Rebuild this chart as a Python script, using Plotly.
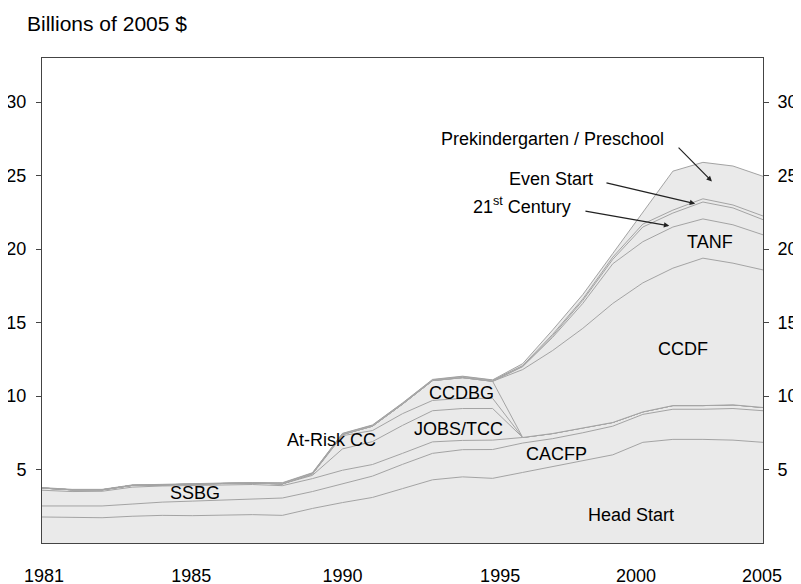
import plotly.graph_objects as go

years = list(range(1981, 2006))

# Series values (billions of 2005 $), bottom to top of the stack
head_start = [1.77, 1.75, 1.72, 1.82, 1.88, 1.86, 1.90, 1.93, 1.88, 2.35, 2.75, 3.10, 3.70,
              4.30, 4.50, 4.40, 4.80, 5.20, 5.60, 6.00, 6.85, 7.05, 7.05, 7.00, 6.85]
cacfp = [0.75, 0.75, 0.80, 0.83, 0.90, 0.99, 1.02, 1.07, 1.18, 1.15, 1.30, 1.45, 1.65,
         1.80, 1.85, 1.96, 2.00, 1.90, 1.90, 1.95, 1.90, 2.05, 2.05, 2.15, 2.15]
ssbg = [1.07, 1.00, 1.00, 1.15, 1.10, 1.07, 1.05, 0.98, 0.84, 0.88, 0.90, 0.79, 0.75,
        0.78, 0.63, 0.64, 0.38, 0.35, 0.35, 0.25, 0.17, 0.25, 0.25, 0.25, 0.22]
jobs_tcc = [0.15, 0.12, 0.10, 0.12, 0.08, 0.06, 0.08, 0.10, 0.12, 0.22, 1.45, 1.56, 1.90,
            2.12, 2.17, 2.15, 0, 0, 0, 0, 0, 0, 0, 0, 0]
at_risk_cc = [0, 0, 0, 0, 0, 0, 0, 0, 0, 0.08, 0.90, 0.75, 0.80,
              0.70, 0.69, 0.69, 0, 0, 0, 0, 0, 0, 0, 0, 0]
ccdbg = [0, 0, 0, 0, 0, 0, 0, 0, 0, 0.02, 0.08, 0.30, 0.65,
         1.35, 1.41, 1.16, 0, 0, 0, 0, 0, 0, 0, 0, 0]
ccdf = [0, 0, 0, 0, 0, 0, 0, 0, 0, 0, 0, 0, 0,
        0, 0, 0, 4.62, 5.65, 6.75, 8.10, 8.78, 9.35, 10.03, 9.64, 9.36]
tanf = [0, 0, 0, 0, 0, 0, 0, 0, 0, 0, 0, 0, 0,
        0, 0, 0, 0.20, 0.90, 1.70, 2.70, 2.80, 2.80, 2.67, 2.61, 2.39]
century21 = [0, 0, 0, 0, 0, 0, 0, 0, 0, 0, 0, 0, 0,
             0, 0.02, 0.02, 0.02, 0.10, 0.20, 0.30, 1.00, 0.95, 1.15, 1.15, 1.03]
even_start = [0, 0, 0, 0, 0, 0, 0, 0, 0.05, 0.05, 0.05, 0.05, 0.05,
              0.05, 0.05, 0.05, 0.05, 0.10, 0.10, 0.15, 0.20, 0.20, 0.22, 0.20, 0.25]
prek = [0.03, 0.03, 0.03, 0.03, 0.03, 0.03, 0.03, 0.03, 0.03, 0.03, 0.03, 0.03, 0.03,
        0.03, 0.03, 0.03, 0.13, 0.30, 0.30, 0.25, 0.80, 2.65, 2.48, 2.65, 2.70]

series = [("Head Start", head_start), ("CACFP", cacfp), ("SSBG", ssbg),
          ("JOBS/TCC", jobs_tcc), ("At-Risk CC", at_risk_cc), ("CCDBG", ccdbg),
          ("CCDF", ccdf), ("TANF", tanf), ("21st Century", century21),
          ("Even Start", even_start), ("Prekindergarten / Preschool", prek)]

# Tick labels (as placed in the original)
x_tick_pos = [1981.07, 1985.97, 1991.0, 1996.25, 2000.77, 2004.97]
x_tick_text = ["1981", "1985", "1990", "1995", "2000", "2005"]
y_ticks = [5, 10, 15, 20, 25, 30]

# In-chart labels: (text, year, value)
labels = [("SSBG", 1986.09, 3.42), ("At-Risk CC", 1990.62, 7.03), ("CCDBG", 1994.97, 10.23),
          ("JOBS/TCC", 1994.88, 7.76), ("CACFP", 1998.11, 6.09), ("Head Start", 2000.59, 1.88),
          ("CCDF", 2002.34, 13.2), ("TANF", 2003.24, 20.49),
          ("Prekindergarten / Preschool", 1997.99, 27.51), ("Even Start", 1997.94, 24.78),
          ("21<sup>st</sup> Century", 1996.98, 22.95)]
# Arrows: (tail year, tail value, head year, head value)
arrows = [(2002.14, 27.0, 2003.3, 24.6), (1999.74, 24.53, 2002.74, 23.09),
          (1999.04, 22.6, 2001.88, 21.58)]

FONT = "Arial, Liberation Sans, sans-serif"
fig = go.Figure()
for name, vals in series:
    fig.add_trace(go.Scatter(x=years, y=vals, name=name, stackgroup="one", mode="lines",
                             line=dict(color="#a3a3a3", width=1), fillcolor="#eaeaea",
                             hoverinfo="skip"))
fig.add_trace(go.Scatter(x=[years[0]], y=[0], yaxis="y2", mode="markers",
                         marker=dict(opacity=0), showlegend=False, hoverinfo="skip"))

annotations = []
for text, x, y in labels:
    annotations.append(dict(x=x, y=y, xref="x", yref="y", text=text, showarrow=False,
                            font=dict(family=FONT, size=18, color="#000")))
for tx, ty, hx, hy in arrows:
    annotations.append(dict(x=hx, y=hy, ax=tx, ay=ty, xref="x", yref="y", axref="x", ayref="y",
                            text="", showarrow=True, arrowhead=2, arrowsize=0.9, arrowwidth=1.2,
                            arrowcolor="#222"))
annotations.append(dict(x=-0.0236, y=1.071, xref="paper", yref="paper", text="Billions of 2005 $",
                        showarrow=False, xanchor="left", yanchor="middle",
                        font=dict(family=FONT, size=21, color="#000")))

# The page body adds an 8px offset, so the figure is 8px smaller than the window
fig.update_layout(
    width=793, height=576,
    margin=dict(l=34, r=38, t=50, b=41, autoexpand=False),
    paper_bgcolor="white", plot_bgcolor="white",
    showlegend=False, hovermode=False,
    font=dict(family=FONT, size=18, color="#000"),
    xaxis=dict(range=[1981, 2005], tickvals=x_tick_pos, ticktext=x_tick_text, ticks="",
               showgrid=False, zeroline=False, showline=True, linecolor="#444", linewidth=1,
               mirror=True, ticklabelstandoff=16, tickfont=dict(size=18), automargin=False),
    yaxis=dict(range=[0, 33], tickvals=y_ticks, ticks="outside", ticklen=5, tickcolor="#444",
               showgrid=False, zeroline=False, showline=True, linecolor="#444", linewidth=1,
               mirror=True, ticklabelstandoff=6, tickfont=dict(size=18), automargin=False),
    yaxis2=dict(range=[0, 33], tickvals=y_ticks, ticks="outside", ticklen=5, tickcolor="#444",
                overlaying="y", side="right", showgrid=False, zeroline=False, showline=False,
                ticklabelstandoff=5, tickfont=dict(size=18), automargin=False),
    annotations=annotations,
)
fig.write_html("out.html")
